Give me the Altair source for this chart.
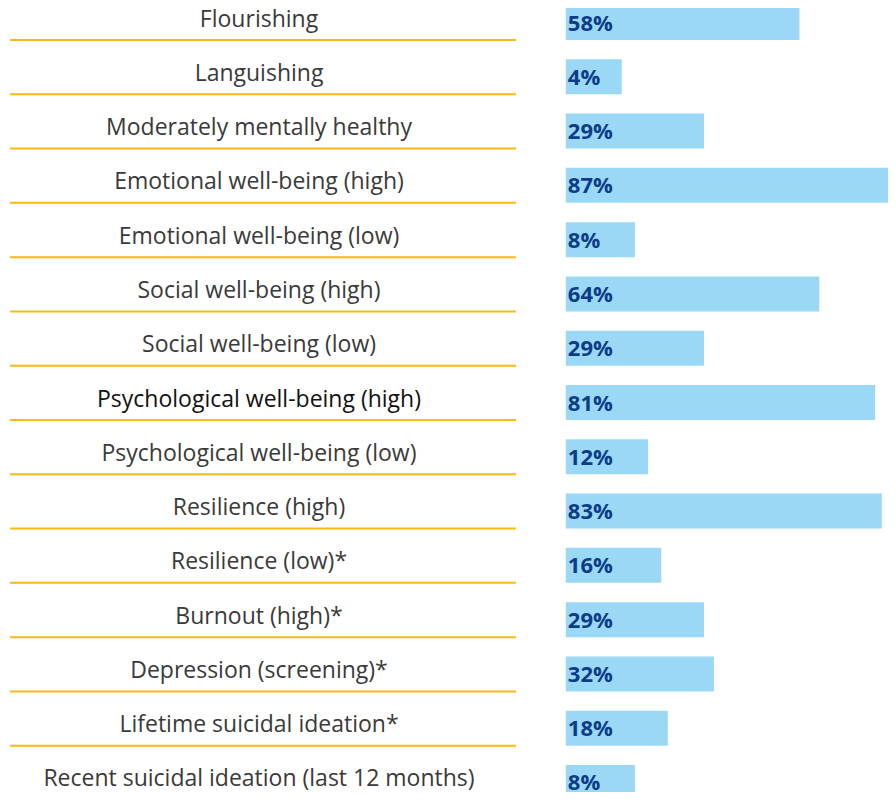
import altair as alt
import pandas as pd

categories = [
    "Flourishing",
    "Languishing",
    "Moderately mentally healthy",
    "Emotional well-being (high)",
    "Emotional well-being (low)",
    "Social well-being (high)",
    "Social well-being (low)",
    "Psychological well-being (high)",
    "Psychological well-being (low)",
    "Resilience (high)",
    "Resilience (low)*",
    "Burnout (high)*",
    "Depression (screening)*",
    "Lifetime suicidal ideation*",
    "Recent suicidal ideation (last 12 months)",
]
values = [58, 4, 29, 87, 8, 64, 29, 81, 12, 83, 16, 29, 32, 18, 8]
value_labels = [f"{v}%" for v in values]

df = pd.DataFrame({"label": categories, "value": values, "text": value_labels})

BASE = -13
xscale = alt.Scale(domain=[-182.5, 84.9], nice=False, zero=False)
yscale = alt.Scale(domain=categories, range=[0, 795], paddingInner=0.355, paddingOuter=0)

base = alt.Chart(df)
Y = alt.Y("label:N", scale=yscale, axis=None, sort=categories)

bars = base.mark_bar(color="#9AD8F6", clip=True).encode(
    y=Y,
    x=alt.X("value:Q", scale=xscale, axis=None),
    x2=alt.datum(BASE),
)

pct = base.mark_text(
    align="left", baseline="alphabetic", font="Open Sans", fontSize=22,
    fontWeight="bold", color="#0C3C88", dx=2, dy=8,
).encode(
    y=Y,
    x=alt.datum(BASE),
    text="text:N",
)

labels = base.mark_text(
    align="center", baseline="alphabetic", font="Open Sans", fontSize=23, dy=4,
).encode(
    y=Y,
    x=alt.value(251),
    text="label:N",
    color=alt.condition(
        "datum.label == 'Psychological well-being (high)'",
        alt.value("#111111"),
        alt.value("#3a3a3a"),
    ),
)

rules = base.mark_rule(color="#FDB913", strokeWidth=2).encode(
    y=alt.Y("label:N", scale=yscale, axis=None, sort=categories, bandPosition=1),
    x=alt.value(2),
    x2=alt.value(508),
)

chart = alt.layer(rules, bars, pct, labels).properties(
    width=880, height=787,
    padding={"top": -3, "bottom": 3, "left": 0, "right": 0},
    autosize=alt.AutoSizeParams(type="none"),
).configure_view(stroke=None)

chart.save("out.html", embed_options={"renderer": "svg", "actions": False})
